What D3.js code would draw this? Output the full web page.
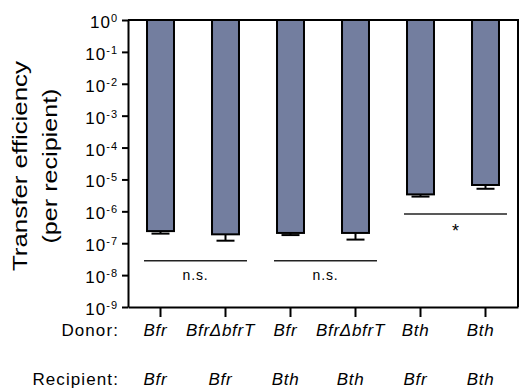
<!DOCTYPE html>
<html>
<head>
<meta charset="utf-8">
<script src="https://cdn.jsdelivr.net/npm/d3@7"></script>
<style>
  body { margin: 0; background: #fff; }
  svg { display: block; font-family: "Liberation Sans", Arial, sans-serif; }
  svg text { fill: #000; }
</style>
</head>
<body>
<div id="chart"></div>
<script>
// data
const donors = [`Bfr`, `BfrΔbfrT`, `Bfr`, `BfrΔbfrT`, `Bth`, `Bth`];
const recipients = [`Bfr`, `Bfr`, `Bth`, `Bth`, `Bfr`, `Bth`];
const efficiency = [2.4e-7, 1.9e-7, 2.1e-7, 2.1e-7, 3.4e-6, 6.7e-6];
const errorLow = [2.0e-7, 1.2e-7, 1.8e-7, 1.3e-7, 2.9e-6, 5.1e-6];
const yExponents = [0, -1, -2, -3, -4, -5, -6, -7, -8, -9];

// significance brackets
const sigFrom = [0, 2, 4];
const sigTo = [1, 3, 5];
const sigLevel = [2.8e-8, 2.8e-8, 8.3e-7];
const sigLabel = [`n.s.`, `n.s.`, `*`];

const WIDTH = 520, HEIGHT = 389;
const plot = { left: 128, right: 518, top: 20, bottom: 307 };
const barColor = `#737e9f`;

let svg = d3.select(`#chart`).append(`svg`)
  .attr(`width`, WIDTH)
  .attr(`height`, HEIGHT);

let x = d3.scaleBand()
  .domain(d3.range(donors.length))
  .range([plot.left, plot.right])
  .paddingInner(0.585)
  .paddingOuter(0.2925);

let y = d3.scaleLog()
  .domain([1e-9, 1])
  .range([plot.bottom, plot.top]);

// bars hang from 10^0 down to the value
svg.append(`g`).selectAll(`rect`)
  .data(efficiency)
  .join(`rect`)
  .attr(`x`, (d, i) => x(i))
  .attr(`y`, y(1))
  .attr(`width`, x.bandwidth())
  .attr(`height`, d => y(d) - y(1))
  .attr(`fill`, barColor)
  .attr(`stroke`, `#000`)
  .attr(`stroke-width`, 2);

// lower error bars
let errG = svg.append(`g`).attr(`stroke`, `#000`).attr(`stroke-width`, 2);
errorLow.forEach((lo, i) => {
  let cx = x(i) + x.bandwidth() / 2;
  errG.append(`line`)
    .attr(`x1`, cx).attr(`x2`, cx)
    .attr(`y1`, y(efficiency[i])).attr(`y2`, y(lo));
  errG.append(`line`)
    .attr(`x1`, cx - 9).attr(`x2`, cx + 9)
    .attr(`y1`, y(lo)).attr(`y2`, y(lo));
});

// frame top + right
svg.append(`path`)
  .attr(`d`, `M${plot.left},${plot.top}H${plot.right}V${plot.bottom}`)
  .attr(`fill`, `none`)
  .attr(`stroke`, `#000`)
  .attr(`stroke-width`, 2);

// y axis
let yAxis = svg.append(`g`)
  .attr(`transform`, `translate(${plot.left},0)`)
  .call(d3.axisLeft(y)
    .tickValues(yExponents.map(e => Math.pow(10, e)))
    .tickSize(6)
    .tickSizeOuter(0)
    .tickFormat(() => ``));
yAxis.select(`.domain`).attr(`stroke-width`, 2);
yAxis.selectAll(`.tick line`).attr(`stroke-width`, 2);

let yLabels = svg.append(`g`)
  .attr(`text-anchor`, `end`)
  .attr(`font-size`, 17)
  .attr(`letter-spacing`, 1);
yExponents.forEach(e => {
  let t = yLabels.append(`text`)
    .attr(`x`, plot.left - 10)
    .attr(`y`, y(Math.pow(10, e)) + 8);
  t.append(`tspan`).text(`10`);
  t.append(`tspan`)
    .attr(`font-size`, 11)
    .attr(`dy`, -6)
    .text(e);
});

// x axis
let xAxis = svg.append(`g`)
  .attr(`transform`, `translate(0,${plot.bottom})`)
  .call(d3.axisBottom(x)
    .tickSize(10)
    .tickSizeOuter(0)
    .tickFormat(() => ``));
xAxis.select(`.domain`).attr(`stroke-width`, 2);
xAxis.selectAll(`.tick line`).attr(`stroke-width`, 2);

// donor / recipient rows
let rows = [[`Donor:`, donors, 336], [`Recipient:`, recipients, 385]];
rows.forEach(([name, labels, baseline]) => {
  let g = svg.append(`g`).attr(`font-size`, 17);
  g.append(`text`)
    .attr(`x`, 119)
    .attr(`y`, baseline)
    .attr(`text-anchor`, `end`)
    .attr(`letter-spacing`, 1.1)
    .text(name);
  g.selectAll(`text.cat`)
    .data(labels)
    .join(`text`)
    .attr(`class`, `cat`)
    .attr(`x`, (d, i) => x(i) + x.bandwidth() / 2 - 5)
    .attr(`y`, baseline)
    .attr(`text-anchor`, `middle`)
    .attr(`font-style`, `italic`)
    .attr(`letter-spacing`, 0.7)
    .text(d => d);
});

// significance lines
sigFrom.forEach((a, k) => {
  let x1 = x(a) - 3;
  let x2 = x(sigTo[k]) + x.bandwidth() + 8;
  let ly = y(sigLevel[k]);
  svg.append(`line`)
    .attr(`x1`, x1).attr(`x2`, x2)
    .attr(`y1`, ly).attr(`y2`, ly)
    .attr(`stroke`, `#222`)
    .attr(`stroke-width`, 1.5);
  let star = sigLabel[k] === `*`;
  svg.append(`text`)
    .attr(`x`, (x1 + x2) / 2)
    .attr(`y`, ly + (star ? 23 : 19))
    .attr(`text-anchor`, `middle`)
    .attr(`font-size`, star ? 18 : 14)
    .attr(`letter-spacing`, star ? 0 : 0.8)
    .text(sigLabel[k]);
});

// y title, glyphs stretched to the width seen in the figure
let title = svg.append(`g`)
  .attr(`font-size`, 21)
  .attr(`text-anchor`, `middle`);
title.append(`text`)
  .attr(`transform`, `translate(27,166) rotate(-90)`)
  .attr(`textLength`, 210)
  .attr(`lengthAdjust`, `spacingAndGlyphs`)
  .text(`Transfer efficiency`);
title.append(`text`)
  .attr(`transform`, `translate(57,166) rotate(-90)`)
  .attr(`textLength`, 155)
  .attr(`lengthAdjust`, `spacingAndGlyphs`)
  .text(`(per recipient)`);
</script>
</body>
</html>
